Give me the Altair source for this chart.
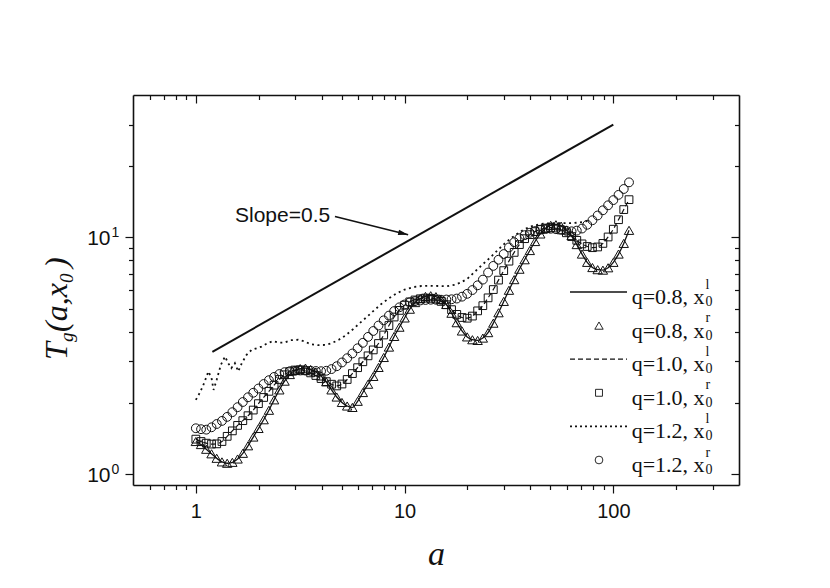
import altair as alt
import pandas as pd

# ---------------- data ----------------
# common abscissa of the marker series (a)
a_grid = [1.000, 1.059, 1.122, 1.189, 1.259, 1.334, 1.413, 1.496, 1.585, 1.679,
          1.778, 1.884, 1.995, 2.113, 2.239, 2.371, 2.512, 2.661, 2.818, 2.985,
          3.162, 3.350, 3.548, 3.758, 3.981, 4.217, 4.467, 4.732, 5.012, 5.309,
          5.623, 5.957, 6.310, 6.683, 7.079, 7.499, 7.943, 8.414, 8.913, 9.441,
          10.00, 10.59, 11.22, 11.89, 12.59, 13.34, 14.13, 14.96, 15.85, 16.79,
          17.78, 18.84, 19.95, 21.13, 22.39, 23.71, 25.12, 26.61, 28.18, 29.85,
          31.62, 33.50, 35.48, 37.58, 39.81, 42.17, 44.67, 47.32, 50.12, 53.09,
          56.23, 59.57, 63.10, 66.83, 70.79, 74.99, 79.43, 84.14, 89.13, 94.41,
          100.0, 105.9, 112.2, 118.9]

# q=0.8 (x0^l line and x0^r triangles coincide)
T_q08 = [1.374, 1.334, 1.274, 1.219, 1.167, 1.127, 1.112, 1.122, 1.159, 1.225,
         1.318, 1.435, 1.560, 1.698, 1.862, 2.061, 2.270, 2.472, 2.636, 2.742,
         2.793, 2.805, 2.767, 2.704, 2.600, 2.455, 2.270, 2.118, 2.009, 1.941,
         1.914, 2.032, 2.213, 2.399, 2.588, 2.825, 3.112, 3.443, 3.819, 4.178,
         4.571, 4.977, 5.309, 5.521, 5.636, 5.675, 5.623, 5.470, 5.212, 4.786,
         4.365, 4.027, 3.802, 3.698, 3.673, 3.758, 3.963, 4.345, 4.808, 5.370,
         5.984, 6.637, 7.345, 8.054, 8.810, 9.616, 10.35, 10.91, 11.25, 11.32,
         11.17, 10.76, 10.19, 9.333, 8.511, 7.852, 7.464, 7.311, 7.278, 7.447,
         7.852, 8.511, 9.441, 10.72]

# q=1.0 (x0^l dashed line and x0^r squares coincide)
T_q10 = [1.406, 1.374, 1.352, 1.340, 1.343, 1.374, 1.445, 1.524, 1.607, 1.683,
         1.766, 1.866, 1.986, 2.109, 2.239, 2.377, 2.512, 2.630, 2.710, 2.754,
         2.761, 2.735, 2.679, 2.612, 2.535, 2.460, 2.399, 2.360, 2.404, 2.512,
         2.661, 2.818, 2.985, 3.162, 3.350, 3.565, 3.873, 4.246, 4.613, 4.920,
         5.176, 5.346, 5.445, 5.508, 5.546, 5.534, 5.495, 5.370, 5.200, 4.955,
         4.732, 4.592, 4.560, 4.656, 4.898, 5.152, 5.559, 6.026, 6.607, 7.244,
         7.943, 8.650, 9.333, 9.886, 10.28, 10.59, 10.81, 10.96, 11.02, 10.96,
         10.76, 10.47, 10.09, 9.727, 9.397, 9.162, 9.057, 9.120, 9.441, 10.05,
         10.84, 11.89, 13.12, 14.45]

# q=1.2, x0^r (circles)
T_q12_r = [1.563, 1.549, 1.542, 1.578, 1.629, 1.679, 1.746, 1.828, 1.919, 2.018,
           2.113, 2.208, 2.301, 2.404, 2.495, 2.576, 2.649, 2.698, 2.723, 2.735,
           2.742, 2.742, 2.735, 2.729, 2.723, 2.735, 2.780, 2.858, 2.965, 3.090,
           3.236, 3.404, 3.589, 3.802, 4.027, 4.246, 4.467, 4.677, 4.887, 5.070,
           5.212, 5.321, 5.383, 5.420, 5.445, 5.458, 5.458, 5.458, 5.470, 5.483,
           5.521, 5.623, 5.781, 5.998, 6.281, 6.637, 7.112, 7.586, 8.054, 8.511,
           9.078, 9.550, 9.931, 10.23, 10.47, 10.64, 10.79, 10.86, 10.89, 10.84,
           10.79, 10.67, 10.62, 10.69, 10.91, 11.32, 11.83, 12.39, 13.03, 13.68,
           14.39, 15.14, 16.03, 17.10]

# q=1.2, x0^l (dotted line)
a_q12_l = [1.000, 1.047, 1.096, 1.148, 1.189, 1.216, 1.259, 1.318, 1.380, 1.429,
           1.479, 1.538, 1.596, 1.660, 1.750, 1.849, 1.954, 2.065, 2.213, 2.344,
           2.483, 2.661, 2.851, 3.090, 3.311, 3.548, 3.846, 4.169, 4.467, 4.842,
           5.188, 5.623, 6.095, 6.607, 7.161, 7.762, 8.414, 9.120, 10.00, 10.96,
           12.02, 13.18, 14.45, 15.85, 17.38, 18.62, 19.95, 21.38, 23.44, 25.70,
           28.18, 30.90, 33.88, 37.15, 40.74, 44.67, 48.98, 53.70, 58.88, 64.57,
           70.79, 77.62]
T_q12_l = [2.061, 2.213, 2.427, 2.716, 2.547, 2.270, 2.506, 2.897, 3.141, 2.944,
           2.805, 2.944, 2.716, 2.944, 3.192, 3.350, 3.404, 3.459, 3.581, 3.648,
           3.597, 3.597, 3.681, 3.698, 3.639, 3.540, 3.508, 3.516, 3.573, 3.698,
           3.846, 4.074, 4.345, 4.624, 4.932, 5.248, 5.534, 5.794, 6.026, 6.166,
           6.237, 6.252, 6.237, 6.223, 6.310, 6.457, 6.683, 7.079, 7.638, 8.222,
           8.913, 9.616, 10.23, 10.79, 11.17, 11.40, 11.48, 11.51, 11.51, 11.51,
           11.61, 11.80]

# reference line of slope 0.5 and its annotation arrow
slope_a = [1.2, 100.0]
slope_T = [3.29, 30.0]
arrow_a = [4.64, 10.4]
arrow_T = [12.27, 10.27]
note_a = [4.55]
note_T = [12.27]
note_text = ["Slope=0.5"]

# ticks
x_ticks = [0.6, 0.7, 0.8, 0.9, 1, 2, 3, 4, 5, 6, 7, 8, 9, 10,
           20, 30, 40, 50, 60, 70, 80, 90, 100, 200, 300]
y_ticks = [1, 2, 3, 4, 5, 6, 7, 8, 9, 10, 20, 30]
y_label_vals = [1, 10]
y_label_base = ["10", "10"]
y_label_exp = ["0", "1"]

# legend
legend_main = ["q=0.8, x", "q=0.8, x", "q=1.0, x", "q=1.0, x", "q=1.2, x", "q=1.2, x"]
legend_sup = ["l", "r", "l", "r", "l", "r"]
legend_sub = ["0", "0", "0", "0", "0", "0"]

# ---------------- layout / style ----------------
W, H = 606, 390
X_DOMAIN = [0.5, 400]
Y_DOMAIN = [0.9, 40]
INK = "#111111"
SERIF = "Liberation Serif"
SANS = "Liberation Sans"

xs = alt.Scale(type="log", domain=X_DOMAIN)
ys = alt.Scale(type="log", domain=Y_DOMAIN)

major_x = "datum.value == 1 || datum.value == 10 || datum.value == 100"
major_y = "datum.value == 1 || datum.value == 10"
tick_x = {"condition": {"test": major_x, "value": 8}, "value": 4.5}
tick_y = {"condition": {"test": major_y, "value": 8}, "value": 4.5}
common = dict(domainColor=INK, domainWidth=1.6, tickColor=INK, tickWidth=1.2, grid=False)

x_axis_main = alt.Axis(
    orient="bottom", values=x_ticks, tickSize=tick_x,
    labelExpr="datum.value == 1 ? '1' : datum.value == 10 ? '10' : datum.value == 100 ? '100' : ''",
    labelFont=SANS, labelFontSize=20, labelColor=INK, labelPadding=8, labelOverlap=False,
    labelFlush=False,
    title="a", titleFont=SERIF, titleFontStyle="italic", titleFontWeight="normal",
    titleFontSize=34, titleColor=INK, titleY=79, titleBaseline="alphabetic", **common)
y_axis_main = alt.Axis(orient="left", values=y_ticks, tickSize=tick_y, labels=False,
                       title=None, **common)
x_axis_top = alt.Axis(orient="bottom", offset=-H, values=x_ticks, tickSize=tick_x,
                      labels=False, title=None, **common)
y_axis_right = alt.Axis(orient="left", offset=-W, values=y_ticks, tickSize=tick_y,
                        labels=False, title=None, **common)

df08 = pd.DataFrame({"a": a_grid, "T": T_q08})
df10 = pd.DataFrame({"a": a_grid, "T": T_q10})
df12r = pd.DataFrame({"a": a_grid, "T": T_q12_r})
df12l = pd.DataFrame({"a": a_q12_l, "T": T_q12_l})
dfslope = pd.DataFrame({"a": slope_a, "T": slope_T})
dfarrow = pd.DataFrame({"a": arrow_a, "T": arrow_T})
dfhead = pd.DataFrame({"a": arrow_a[1:], "T": arrow_T[1:]})
dfnote = pd.DataFrame({"a": note_a, "T": note_T, "txt": note_text})
dfylab = pd.DataFrame({"T": y_label_vals, "base": y_label_base, "exp": y_label_exp})


def enc(axis_x=None, axis_y=None):
    return dict(x=alt.X("a:Q", scale=xs, axis=axis_x),
                y=alt.Y("T:Q", scale=ys, axis=axis_y))


# axes layers
axes_main = alt.Chart(dfslope).mark_point(opacity=0).encode(**enc(x_axis_main, y_axis_main))
axes_mirror = alt.Chart(dfslope).mark_point(opacity=0).encode(**enc(x_axis_top, y_axis_right))

# y tick labels 10^0, 10^1 (with real superscripts)
ylab_base = alt.Chart(dfylab).mark_text(align="right", baseline="alphabetic", font=SANS,
                                        fontSize=21, color=INK, dy=8).encode(
    x=alt.value(-22.5), y=alt.Y("T:Q", scale=ys, axis=None), text="base:N")
ylab_exp = alt.Chart(dfylab).mark_text(align="left", baseline="alphabetic", font=SANS,
                                       fontSize=14, color=INK, dy=0).encode(
    x=alt.value(-21.5), y=alt.Y("T:Q", scale=ys, axis=None), text="exp:N")

# data layers
line08 = alt.Chart(df08).mark_line(color=INK, strokeWidth=1.3, interpolate="monotone").encode(**enc())
line10 = alt.Chart(df10).mark_line(color=INK, strokeWidth=1.2, strokeDash=[5, 3],
                                   interpolate="monotone").encode(**enc())
line12 = alt.Chart(df12l).mark_line(color=INK, strokeWidth=1.8, strokeDash=[2, 3.5]).encode(**enc())
tri = alt.Chart(df08).mark_point(shape="triangle-up", filled=False, size=88, color=INK,
                                 strokeWidth=1.0, opacity=1).encode(**enc())
sq = alt.Chart(df10).mark_point(shape="square", filled=False, size=60, color=INK,
                                strokeWidth=1.0, opacity=1).encode(**enc())
circ = alt.Chart(df12r).mark_point(shape="circle", filled=False, size=78, color=INK,
                                   strokeWidth=1.0, opacity=1).encode(**enc())

slope = alt.Chart(dfslope).mark_line(color=INK, strokeWidth=2).encode(**enc())
arrow = alt.Chart(dfarrow).mark_line(color=INK, strokeWidth=1.6).encode(**enc())
head = alt.Chart(dfhead).mark_point(shape="M0,0L-2,-0.55L-2,0.55Z", filled=True, size=100,
                                    angle=14, color=INK, opacity=1, strokeWidth=0).encode(**enc())
note = alt.Chart(dfnote).mark_text(align="right", baseline="middle", font=SANS, fontSize=21,
                                   color=INK, dx=-3).encode(text="txt:N", **enc())

# legend (drawn by hand: super/subscripts)
ROW0, ROWSTEP = 197, 33.6
rows_y = [ROW0 + i * ROWSTEP for i in range(6)]
leg_df = pd.DataFrame({"main": legend_main, "sup": legend_sup, "sub": legend_sub,
                       "yb": [r + 12 for r in rows_y],
                       "ysup": [r - 3.5 for r in rows_y],
                       "ysub": [r + 14 for r in rows_y]})
leg_main = alt.Chart(leg_df).mark_text(align="left", baseline="alphabetic", font=SERIF,
                                       fontSize=22, color=INK).encode(
    x=alt.value(498.7), y=alt.Y("yb:Q", scale=None), text="main:N")
leg_sup = alt.Chart(leg_df).mark_text(align="left", baseline="alphabetic", font=SERIF,
                                      fontSize=14, color=INK).encode(
    x=alt.value(572.5), y=alt.Y("ysup:Q", scale=None), text="sup:N")
leg_sub = alt.Chart(leg_df).mark_text(align="left", baseline="alphabetic", font=SERIF,
                                      fontSize=14, color=INK).encode(
    x=alt.value(572.5), y=alt.Y("ysub:Q", scale=None), text="sub:N")

one = pd.DataFrame({"k": [0]})
LX0, LX1, LXM = 437, 494, 466
leg_l1 = alt.Chart(one).mark_rule(color=INK, strokeWidth=1.5).encode(
    x=alt.value(LX0), x2=alt.value(LX1), y=alt.value(rows_y[0]))
leg_l3 = alt.Chart(one).mark_rule(color=INK, strokeWidth=1.3, strokeDash=[5, 3]).encode(
    x=alt.value(LX0), x2=alt.value(LX1), y=alt.value(rows_y[2]))
leg_l5 = alt.Chart(one).mark_rule(color=INK, strokeWidth=1.8, strokeDash=[2, 3]).encode(
    x=alt.value(LX0), x2=alt.value(LX1), y=alt.value(rows_y[4]))
leg_p2 = alt.Chart(one).mark_point(shape="triangle-up", filled=False, size=70, color=INK,
                                   strokeWidth=0.9, opacity=1).encode(
    x=alt.value(LXM), y=alt.value(rows_y[1]))
leg_p4 = alt.Chart(one).mark_point(shape="square", filled=False, size=48, color=INK,
                                   strokeWidth=0.9, opacity=1).encode(
    x=alt.value(LXM), y=alt.value(rows_y[3]))
leg_p6 = alt.Chart(one).mark_point(shape="circle", filled=False, size=60, color=INK,
                                   strokeWidth=0.9, opacity=1).encode(
    x=alt.value(LXM), y=alt.value(rows_y[5]))

# y-axis title  T_g(a,x_0 )  composed from pieces
def ypiece(txt, x, y, size):
    return alt.Chart(one).mark_text(align="left", baseline="alphabetic", angle=270, font=SERIF,
                                    fontStyle="italic", fontSize=size, color=INK).encode(
        x=alt.value(x), y=alt.value(y), text=alt.value(txt))

yt = [ypiece("T", -66, 265, 32), ypiece("g", -60, 247, 19), ypiece("(a,x", -66, 237, 32),
      ypiece("0", -60, 188, 19), ypiece(")", -66, 173, 32)]

chart = alt.layer(
    axes_main, axes_mirror, ylab_base, ylab_exp, slope, arrow, head, note,
    line08, line10, line12, tri, sq, circ,
    leg_l1, leg_l3, leg_l5, leg_p2, leg_p4, leg_p6, leg_main, leg_sup, leg_sub,
    *yt
).resolve_axis(x="independent", y="independent").properties(
    width=W, height=H,
    autosize=alt.AutoSizeParams(type="none"),
    padding={"left": 125, "top": 87, "right": 80, "bottom": 90},
).configure_view(stroke=None).configure(background="white")

chart.save("out.html", embed_options={"renderer": "svg", "actions": False})
